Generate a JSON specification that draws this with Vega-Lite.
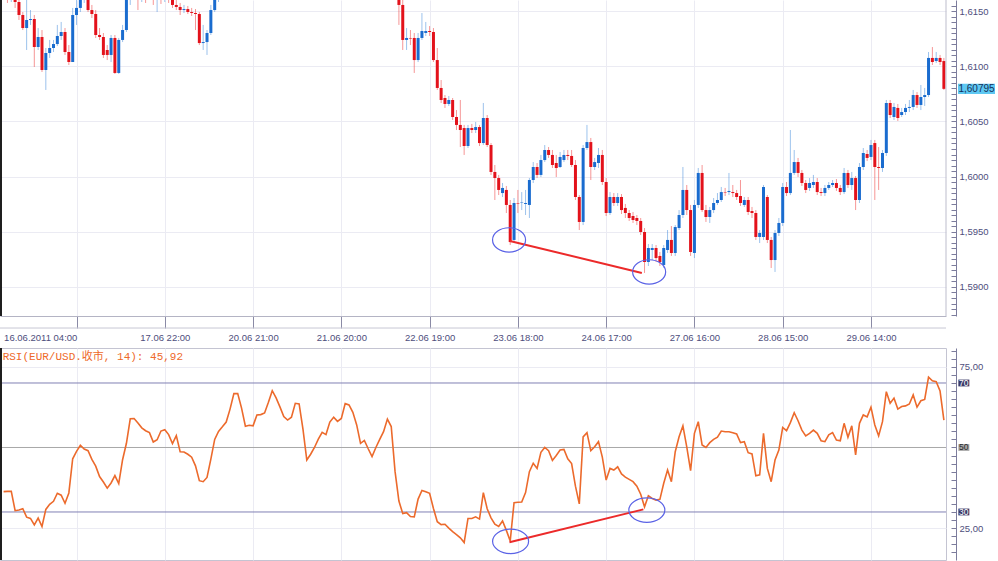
{
"$schema": "https://vega.github.io/schema/vega-lite/v6.json",
"padding": {"left": -1, "top": -1, "right": 0, "bottom": 0},
"background": "#ffffff",
"bounds": "flush",
"spacing": 32,
"config": {"view": {"stroke": null}, "axis": {"labelFont": "Liberation Sans", "labelFontSize": 9.5, "labelColor": "#4e4e7c", "title": null}},
"datasets": {
"bars": [
{"i":0,"o":1.61645,"h":1.61763,"l":1.616,"c":1.61691,"r":36.3},
{"i":1,"o":1.61691,"h":1.61736,"l":1.61573,"c":1.61636,"r":36.4},
{"i":2,"o":1.61636,"h":1.61709,"l":1.61582,"c":1.61672,"r":36.4},
{"i":3,"o":1.61672,"h":1.61709,"l":1.61528,"c":1.61582,"r":30.4},
{"i":4,"o":1.61582,"h":1.61618,"l":1.61419,"c":1.61464,"r":30.6},
{"i":5,"o":1.61464,"h":1.61491,"l":1.61328,"c":1.61346,"r":31.0},
{"i":6,"o":1.61346,"h":1.616,"l":1.61147,"c":1.61419,"r":28.4},
{"i":7,"o":1.61419,"h":1.61509,"l":1.61374,"c":1.61428,"r":28.0},
{"i":8,"o":1.61428,"h":1.61464,"l":1.60993,"c":1.61174,"r":26.0},
{"i":9,"o":1.61174,"h":1.61346,"l":1.61147,"c":1.61265,"r":28.1},
{"i":10,"o":1.61265,"h":1.61328,"l":1.60948,"c":1.60966,"r":25.5},
{"i":11,"o":1.60966,"h":1.61165,"l":1.60785,"c":1.6112,"r":30.8},
{"i":12,"o":1.6112,"h":1.61238,"l":1.61075,"c":1.61165,"r":32.4},
{"i":13,"o":1.61165,"h":1.61238,"l":1.61129,"c":1.61201,"r":33.3},
{"i":14,"o":1.61201,"h":1.61374,"l":1.61183,"c":1.61274,"r":35.8},
{"i":15,"o":1.61274,"h":1.61401,"l":1.61238,"c":1.6131,"r":35.2},
{"i":16,"o":1.6131,"h":1.61346,"l":1.61102,"c":1.61129,"r":32.7},
{"i":17,"o":1.61129,"h":1.61192,"l":1.61011,"c":1.61038,"r":35.9},
{"i":18,"o":1.61038,"h":1.61528,"l":1.61038,"c":1.61464,"r":46.5},
{"i":19,"o":1.61464,"h":1.616,"l":1.61374,"c":1.61528,"r":48.8},
{"i":20,"o":1.61528,"h":1.61645,"l":1.61491,"c":1.616,"r":50.7},
{"i":21,"o":1.616,"h":1.61672,"l":1.61573,"c":1.61618,"r":49.5},
{"i":22,"o":1.616,"h":1.61645,"l":1.61491,"c":1.61509,"r":49.0},
{"i":23,"o":1.61509,"h":1.61555,"l":1.61437,"c":1.61473,"r":46.3},
{"i":24,"o":1.61473,"h":1.61509,"l":1.61256,"c":1.61283,"r":44.2},
{"i":25,"o":1.61283,"h":1.61346,"l":1.61238,"c":1.61265,"r":41.0},
{"i":26,"o":1.61265,"h":1.61301,"l":1.61075,"c":1.61102,"r":39.3},
{"i":27,"o":1.61147,"h":1.61192,"l":1.61056,"c":1.61102,"r":37.4},
{"i":28,"o":1.61102,"h":1.61283,"l":1.61038,"c":1.61256,"r":39.0},
{"i":29,"o":1.61256,"h":1.61283,"l":1.6093,"c":1.60939,"r":41.3},
{"i":30,"o":1.60939,"h":1.61256,"l":1.6093,"c":1.61238,"r":38.8},
{"i":31,"o":1.61238,"h":1.61374,"l":1.61219,"c":1.61328,"r":46.2},
{"i":32,"o":1.61328,"h":1.61645,"l":1.6131,"c":1.616,"r":51.3},
{"i":33,"o":1.616,"h":1.61736,"l":1.61555,"c":1.61691,"r":58.9},
{"i":34,"o":1.61691,"h":1.61736,"l":1.616,"c":1.61654,"r":59.0},
{"i":35,"o":1.61654,"h":1.61709,"l":1.61509,"c":1.61627,"r":57.6},
{"i":36,"o":1.61627,"h":1.61727,"l":1.61582,"c":1.61672,"r":56.1},
{"i":37,"o":1.61672,"h":1.61736,"l":1.61573,"c":1.61645,"r":55.2},
{"i":38,"o":1.61645,"h":1.61763,"l":1.616,"c":1.61691,"r":54.6},
{"i":39,"o":1.61691,"h":1.61745,"l":1.61555,"c":1.61636,"r":51.7},
{"i":40,"o":1.61636,"h":1.61745,"l":1.61491,"c":1.61682,"r":52.4},
{"i":41,"o":1.61682,"h":1.61727,"l":1.61564,"c":1.61618,"r":55.1},
{"i":42,"o":1.61618,"h":1.61709,"l":1.61582,"c":1.61654,"r":55.5},
{"i":43,"o":1.61654,"h":1.61709,"l":1.61573,"c":1.61609,"r":54.0},
{"i":44,"o":1.616,"h":1.61636,"l":1.61528,"c":1.61555,"r":51.2},
{"i":45,"o":1.61555,"h":1.616,"l":1.61509,"c":1.61537,"r":53.7},
{"i":46,"o":1.61537,"h":1.61573,"l":1.61464,"c":1.61509,"r":48.7},
{"i":47,"o":1.61509,"h":1.61555,"l":1.61482,"c":1.61518,"r":48.6},
{"i":48,"o":1.61518,"h":1.61546,"l":1.61473,"c":1.61491,"r":47.9},
{"i":49,"o":1.61491,"h":1.61528,"l":1.61455,"c":1.61482,"r":47.0},
{"i":50,"o":1.61482,"h":1.61518,"l":1.61328,"c":1.61473,"r":44.3},
{"i":51,"o":1.61473,"h":1.61491,"l":1.61192,"c":1.6121,"r":39.7},
{"i":52,"o":1.6121,"h":1.61374,"l":1.61147,"c":1.61219,"r":39.4},
{"i":53,"o":1.61219,"h":1.61328,"l":1.61102,"c":1.61301,"r":40.7},
{"i":54,"o":1.61301,"h":1.61555,"l":1.61283,"c":1.61509,"r":46.4},
{"i":55,"o":1.61509,"h":1.61645,"l":1.61491,"c":1.616,"r":52.5},
{"i":56,"o":1.616,"h":1.61736,"l":1.61582,"c":1.61691,"r":55.0},
{"i":57,"o":1.61691,"h":1.61872,"l":1.61645,"c":1.61827,"r":56.4},
{"i":58,"o":1.61827,"h":1.62008,"l":1.61781,"c":1.61962,"r":57.9},
{"i":59,"o":1.61962,"h":1.62162,"l":1.61917,"c":1.62098,"r":61.9},
{"i":60,"o":1.62098,"h":1.62162,"l":1.62008,"c":1.62053,"r":66.7},
{"i":61,"o":1.62053,"h":1.62098,"l":1.6189,"c":1.61944,"r":66.7},
{"i":62,"o":1.61944,"h":1.62035,"l":1.61872,"c":1.61981,"r":62.2},
{"i":63,"o":1.61981,"h":1.62017,"l":1.61854,"c":1.61917,"r":56.6},
{"i":64,"o":1.61917,"h":1.61962,"l":1.61781,"c":1.61872,"r":56.9},
{"i":65,"o":1.61872,"h":1.62008,"l":1.61827,"c":1.61962,"r":56.7},
{"i":66,"o":1.61962,"h":1.62098,"l":1.61926,"c":1.62053,"r":60.1},
{"i":67,"o":1.62053,"h":1.62107,"l":1.61962,"c":1.62008,"r":60.2},
{"i":68,"o":1.62008,"h":1.62189,"l":1.61981,"c":1.62144,"r":60.7},
{"i":69,"o":1.62144,"h":1.62307,"l":1.62107,"c":1.62252,"r":64.0},
{"i":70,"o":1.62252,"h":1.62289,"l":1.62125,"c":1.62162,"r":67.6},
{"i":71,"o":1.62162,"h":1.62198,"l":1.62053,"c":1.62098,"r":65.4},
{"i":72,"o":1.62098,"h":1.62144,"l":1.62008,"c":1.62053,"r":62.6},
{"i":73,"o":1.62053,"h":1.6218,"l":1.62017,"c":1.62125,"r":59.6},
{"i":74,"o":1.62125,"h":1.62144,"l":1.61962,"c":1.62008,"r":58.5},
{"i":75,"o":1.62008,"h":1.62071,"l":1.61944,"c":1.62035,"r":59.4},
{"i":76,"o":1.62035,"h":1.62125,"l":1.61999,"c":1.62071,"r":63.7},
{"i":77,"o":1.62071,"h":1.62107,"l":1.61962,"c":1.62008,"r":63.5},
{"i":78,"o":1.62008,"h":1.62035,"l":1.61872,"c":1.61917,"r":55.7},
{"i":79,"o":1.61917,"h":1.61962,"l":1.61799,"c":1.61854,"r":46.1},
{"i":80,"o":1.61854,"h":1.61926,"l":1.61817,"c":1.61872,"r":47.9},
{"i":81,"o":1.61872,"h":1.61944,"l":1.61836,"c":1.61908,"r":50.0},
{"i":82,"o":1.61908,"h":1.61981,"l":1.61872,"c":1.61944,"r":52.6},
{"i":83,"o":1.61944,"h":1.62017,"l":1.61908,"c":1.61981,"r":54.7},
{"i":84,"o":1.61981,"h":1.62017,"l":1.61926,"c":1.61962,"r":54.0},
{"i":85,"o":1.61962,"h":1.62053,"l":1.61926,"c":1.62017,"r":57.9},
{"i":86,"o":1.62017,"h":1.62098,"l":1.61981,"c":1.62053,"r":59.4},
{"i":87,"o":1.62053,"h":1.62089,"l":1.61999,"c":1.62035,"r":58.1},
{"i":88,"o":1.62035,"h":1.62098,"l":1.61999,"c":1.62053,"r":59.0},
{"i":89,"o":1.62053,"h":1.62162,"l":1.62017,"c":1.62125,"r":63.6},
{"i":90,"o":1.62125,"h":1.6218,"l":1.62071,"c":1.62116,"r":63.2},
{"i":91,"o":1.62116,"h":1.62144,"l":1.62053,"c":1.62089,"r":60.9},
{"i":92,"o":1.62089,"h":1.62125,"l":1.61999,"c":1.62035,"r":57.0},
{"i":93,"o":1.62035,"h":1.62053,"l":1.61926,"c":1.61962,"r":51.3},
{"i":94,"o":1.61962,"h":1.62017,"l":1.61926,"c":1.61981,"r":52.2},
{"i":95,"o":1.61981,"h":1.62008,"l":1.61908,"c":1.61944,"r":49.6},
{"i":96,"o":1.61944,"h":1.61962,"l":1.61872,"c":1.61908,"r":47.2},
{"i":97,"o":1.61908,"h":1.61981,"l":1.61872,"c":1.61944,"r":50.0},
{"i":98,"o":1.61944,"h":1.62017,"l":1.61908,"c":1.61981,"r":52.5},
{"i":99,"o":1.61981,"h":1.62053,"l":1.61944,"c":1.62017,"r":54.9},
{"i":100,"o":1.62017,"h":1.62107,"l":1.61981,"c":1.62071,"r":58.8},
{"i":101,"o":1.62071,"h":1.62107,"l":1.61999,"c":1.62035,"r":56.5},
{"i":102,"o":1.62035,"h":1.62053,"l":1.61736,"c":1.61781,"r":42.5},
{"i":103,"o":1.61781,"h":1.61827,"l":1.61374,"c":1.61555,"r":33.4},
{"i":104,"o":1.61555,"h":1.616,"l":1.61147,"c":1.61238,"r":29.5},
{"i":105,"o":1.61238,"h":1.61346,"l":1.61147,"c":1.61256,"r":29.8},
{"i":106,"o":1.61256,"h":1.61328,"l":1.61192,"c":1.61251,"r":28.6},
{"i":107,"o":1.61256,"h":1.61301,"l":1.60939,"c":1.61056,"r":28.5},
{"i":108,"o":1.61056,"h":1.61301,"l":1.61038,"c":1.61256,"r":34.0},
{"i":109,"o":1.61256,"h":1.61482,"l":1.61238,"c":1.61319,"r":36.7},
{"i":110,"o":1.61301,"h":1.61401,"l":1.61274,"c":1.61319,"r":36.3},
{"i":111,"o":1.61319,"h":1.61364,"l":1.61274,"c":1.6131,"r":35.8},
{"i":112,"o":1.6131,"h":1.61346,"l":1.61038,"c":1.61056,"r":31.1},
{"i":113,"o":1.61056,"h":1.61165,"l":1.60785,"c":1.60803,"r":27.0},
{"i":114,"o":1.60803,"h":1.60875,"l":1.60667,"c":1.60694,"r":26.1},
{"i":115,"o":1.60712,"h":1.60739,"l":1.60622,"c":1.60658,"r":26.2},
{"i":116,"o":1.60658,"h":1.6073,"l":1.6064,"c":1.60694,"r":25.0},
{"i":117,"o":1.60694,"h":1.60712,"l":1.60513,"c":1.6054,"r":23.9},
{"i":118,"o":1.6054,"h":1.60603,"l":1.60422,"c":1.60468,"r":23.0},
{"i":119,"o":1.60468,"h":1.60694,"l":1.60268,"c":1.60422,"r":22.0},
{"i":120,"o":1.6044,"h":1.60468,"l":1.60196,"c":1.60277,"r":20.5},
{"i":121,"o":1.60277,"h":1.60468,"l":1.60259,"c":1.6044,"r":28.0},
{"i":122,"o":1.6044,"h":1.60477,"l":1.60395,"c":1.60422,"r":28.0},
{"i":123,"o":1.60422,"h":1.60495,"l":1.60395,"c":1.60449,"r":28.5},
{"i":124,"o":1.60449,"h":1.60468,"l":1.60277,"c":1.60304,"r":27.8},
{"i":125,"o":1.60304,"h":1.60667,"l":1.60286,"c":1.60531,"r":36.0},
{"i":126,"o":1.60531,"h":1.60558,"l":1.60268,"c":1.60286,"r":31.0},
{"i":127,"o":1.60286,"h":1.60304,"l":1.60015,"c":1.60042,"r":28.2},
{"i":128,"o":1.60042,"h":1.60105,"l":1.59788,"c":1.59987,"r":26.2},
{"i":129,"o":1.59987,"h":1.60015,"l":1.59833,"c":1.59879,"r":25.5},
{"i":130,"o":1.59851,"h":1.59942,"l":1.59815,"c":1.59897,"r":27.2},
{"i":131,"o":1.59879,"h":1.59915,"l":1.5967,"c":1.59743,"r":24.3},
{"i":132,"o":1.59743,"h":1.59788,"l":1.5938,"c":1.59407,"r":21.0},
{"i":133,"o":1.59426,"h":1.59806,"l":1.59407,"c":1.59761,"r":32.9},
{"i":134,"o":1.59761,"h":1.59879,"l":1.5967,"c":1.59756,"r":33.0},
{"i":135,"o":1.59761,"h":1.5986,"l":1.59697,"c":1.59765,"r":33.1},
{"i":136,"o":1.59752,"h":1.59879,"l":1.59652,"c":1.59761,"r":36.0},
{"i":137,"o":1.59743,"h":1.59987,"l":1.59625,"c":1.59969,"r":42.5},
{"i":138,"o":1.59969,"h":1.60132,"l":1.59942,"c":1.60087,"r":45.1},
{"i":139,"o":1.60087,"h":1.60123,"l":1.59987,"c":1.60015,"r":43.5},
{"i":140,"o":1.60015,"h":1.60196,"l":1.59996,"c":1.6015,"r":48.5},
{"i":141,"o":1.6015,"h":1.60286,"l":1.60132,"c":1.60241,"r":50.0},
{"i":142,"o":1.60241,"h":1.60268,"l":1.60169,"c":1.60196,"r":49.0},
{"i":143,"o":1.60196,"h":1.60241,"l":1.60078,"c":1.60105,"r":46.0},
{"i":144,"o":1.60123,"h":1.60196,"l":1.59996,"c":1.60078,"r":47.5},
{"i":145,"o":1.60087,"h":1.60223,"l":1.60078,"c":1.60178,"r":49.2},
{"i":146,"o":1.6015,"h":1.60241,"l":1.60132,"c":1.60196,"r":49.4},
{"i":147,"o":1.60196,"h":1.60241,"l":1.6015,"c":1.60187,"r":46.5},
{"i":148,"o":1.60187,"h":1.60241,"l":1.60087,"c":1.60105,"r":45.0},
{"i":149,"o":1.60105,"h":1.6015,"l":1.59788,"c":1.59815,"r":38.0},
{"i":150,"o":1.59815,"h":1.59833,"l":1.59516,"c":1.59589,"r":32.5},
{"i":151,"o":1.59589,"h":1.60286,"l":1.59561,"c":1.60259,"r":53.3},
{"i":152,"o":1.60259,"h":1.60468,"l":1.60241,"c":1.60313,"r":54.6},
{"i":153,"o":1.60313,"h":1.6035,"l":1.59969,"c":1.60087,"r":49.0},
{"i":154,"o":1.60087,"h":1.60169,"l":1.6006,"c":1.60132,"r":50.2},
{"i":155,"o":1.60123,"h":1.60259,"l":1.60078,"c":1.60196,"r":51.8},
{"i":156,"o":1.60196,"h":1.60241,"l":1.59924,"c":1.59951,"r":47.0},
{"i":157,"o":1.59951,"h":1.59987,"l":1.59643,"c":1.5967,"r":39.9},
{"i":158,"o":1.5967,"h":1.5986,"l":1.59652,"c":1.59815,"r":43.5},
{"i":159,"o":1.59815,"h":1.59851,"l":1.59734,"c":1.59761,"r":43.0},
{"i":160,"o":1.59761,"h":1.59851,"l":1.59734,"c":1.59815,"r":44.0},
{"i":161,"o":1.59815,"h":1.59842,"l":1.59661,"c":1.59697,"r":41.8},
{"i":162,"o":1.59716,"h":1.59752,"l":1.59625,"c":1.5967,"r":40.8},
{"i":163,"o":1.5967,"h":1.59697,"l":1.59598,"c":1.59625,"r":40.1},
{"i":164,"o":1.59643,"h":1.59679,"l":1.5958,"c":1.59607,"r":39.4},
{"i":165,"o":1.59625,"h":1.59652,"l":1.59561,"c":1.59598,"r":38.0},
{"i":166,"o":1.59598,"h":1.59625,"l":1.59471,"c":1.59498,"r":35.5},
{"i":167,"o":1.59498,"h":1.59534,"l":1.59127,"c":1.59226,"r":31.6},
{"i":168,"o":1.59226,"h":1.59389,"l":1.5919,"c":1.59353,"r":35.0},
{"i":169,"o":1.59335,"h":1.59389,"l":1.59244,"c":1.59353,"r":34.2},
{"i":170,"o":1.59353,"h":1.5938,"l":1.59226,"c":1.59262,"r":33.7},
{"i":171,"o":1.59281,"h":1.59317,"l":1.5919,"c":1.59226,"r":33.9},
{"i":172,"o":1.59199,"h":1.5938,"l":1.59172,"c":1.59353,"r":38.9},
{"i":173,"o":1.59335,"h":1.59516,"l":1.59308,"c":1.59426,"r":43.0},
{"i":174,"o":1.59426,"h":1.59552,"l":1.59281,"c":1.59308,"r":39.4},
{"i":175,"o":1.59308,"h":1.59561,"l":1.59281,"c":1.59543,"r":48.7},
{"i":176,"o":1.59534,"h":1.59697,"l":1.59516,"c":1.59652,"r":53.3},
{"i":177,"o":1.59652,"h":1.60087,"l":1.59625,"c":1.59879,"r":56.7},
{"i":178,"o":1.59879,"h":1.59924,"l":1.59652,"c":1.59697,"r":50.2},
{"i":179,"o":1.59697,"h":1.59743,"l":1.59281,"c":1.59317,"r":42.8},
{"i":180,"o":1.59308,"h":1.59788,"l":1.59262,"c":1.59743,"r":54.4},
{"i":181,"o":1.59743,"h":1.60078,"l":1.59716,"c":1.60033,"r":58.0},
{"i":182,"o":1.60033,"h":1.60105,"l":1.59679,"c":1.59697,"r":50.8},
{"i":183,"o":1.59697,"h":1.59743,"l":1.59589,"c":1.59634,"r":50.0},
{"i":184,"o":1.59634,"h":1.59725,"l":1.5958,"c":1.59697,"r":51.5},
{"i":185,"o":1.59697,"h":1.59806,"l":1.5967,"c":1.59761,"r":52.5},
{"i":186,"o":1.59761,"h":1.59851,"l":1.59743,"c":1.59788,"r":53.2},
{"i":187,"o":1.59788,"h":1.59906,"l":1.5977,"c":1.5986,"r":55.1},
{"i":188,"o":1.5986,"h":1.59897,"l":1.59824,"c":1.59856,"r":54.9},
{"i":189,"o":1.5986,"h":1.60033,"l":1.59833,"c":1.5987,"r":54.9},
{"i":190,"o":1.5986,"h":1.59924,"l":1.59815,"c":1.59851,"r":54.6},
{"i":191,"o":1.59851,"h":1.59879,"l":1.59788,"c":1.59815,"r":54.2},
{"i":192,"o":1.59824,"h":1.59969,"l":1.59734,"c":1.59761,"r":51.5},
{"i":193,"o":1.59743,"h":1.59815,"l":1.59725,"c":1.59788,"r":51.8},
{"i":194,"o":1.59788,"h":1.59815,"l":1.59652,"c":1.59679,"r":48.4},
{"i":195,"o":1.59688,"h":1.59725,"l":1.59625,"c":1.5967,"r":48.0},
{"i":196,"o":1.5967,"h":1.59697,"l":1.59426,"c":1.59453,"r":41.2},
{"i":197,"o":1.59453,"h":1.59516,"l":1.59398,"c":1.59489,"r":41.5},
{"i":198,"o":1.59453,"h":1.59924,"l":1.59426,"c":1.59906,"r":54.4},
{"i":199,"o":1.59815,"h":1.59833,"l":1.59398,"c":1.59426,"r":43.5},
{"i":200,"o":1.59426,"h":1.59453,"l":1.59172,"c":1.59244,"r":39.4},
{"i":201,"o":1.59244,"h":1.59516,"l":1.59136,"c":1.59489,"r":46.1},
{"i":202,"o":1.59489,"h":1.59625,"l":1.59462,"c":1.5958,"r":49.2},
{"i":203,"o":1.5958,"h":1.59942,"l":1.59552,"c":1.59906,"r":56.2},
{"i":204,"o":1.59906,"h":1.59951,"l":1.59824,"c":1.59851,"r":55.2},
{"i":205,"o":1.59851,"h":1.60422,"l":1.59833,"c":1.60033,"r":57.7},
{"i":206,"o":1.60033,"h":1.60241,"l":1.60015,"c":1.60132,"r":60.8},
{"i":207,"o":1.60132,"h":1.60169,"l":1.59996,"c":1.60033,"r":58.3},
{"i":208,"o":1.60033,"h":1.6006,"l":1.59915,"c":1.59942,"r":55.4},
{"i":209,"o":1.59942,"h":1.59969,"l":1.59851,"c":1.59879,"r":53.6},
{"i":210,"o":1.59897,"h":1.59987,"l":1.5987,"c":1.59942,"r":54.4},
{"i":211,"o":1.59924,"h":1.60015,"l":1.59897,"c":1.59951,"r":55.4},
{"i":212,"o":1.59951,"h":1.59987,"l":1.59833,"c":1.5986,"r":54.4},
{"i":213,"o":1.5986,"h":1.59897,"l":1.59824,"c":1.59851,"r":52.1},
{"i":214,"o":1.59851,"h":1.59924,"l":1.59824,"c":1.59897,"r":51.8},
{"i":215,"o":1.59897,"h":1.59951,"l":1.59879,"c":1.59924,"r":53.9},
{"i":216,"o":1.59924,"h":1.59969,"l":1.59906,"c":1.59942,"r":54.6},
{"i":217,"o":1.59942,"h":1.59978,"l":1.5987,"c":1.59897,"r":52.3},
{"i":218,"o":1.59897,"h":1.59924,"l":1.59833,"c":1.5986,"r":52.1},
{"i":219,"o":1.5986,"h":1.60078,"l":1.59842,"c":1.60033,"r":57.5},
{"i":220,"o":1.60033,"h":1.6006,"l":1.59897,"c":1.59924,"r":53.2},
{"i":221,"o":1.59924,"h":1.60042,"l":1.59879,"c":1.59987,"r":56.7},
{"i":222,"o":1.59987,"h":1.60005,"l":1.59697,"c":1.59788,"r":47.7},
{"i":223,"o":1.59788,"h":1.60123,"l":1.59761,"c":1.60087,"r":57.5},
{"i":224,"o":1.60087,"h":1.60259,"l":1.6006,"c":1.60214,"r":60.1},
{"i":225,"o":1.60205,"h":1.60241,"l":1.60141,"c":1.60169,"r":59.5},
{"i":226,"o":1.60178,"h":1.60332,"l":1.6015,"c":1.60286,"r":62.5},
{"i":227,"o":1.60304,"h":1.60332,"l":1.59788,"c":1.60087,"r":57.0},
{"i":228,"o":1.60087,"h":1.60268,"l":1.59879,"c":1.60078,"r":53.6},
{"i":229,"o":1.60078,"h":1.60241,"l":1.60042,"c":1.60214,"r":58.0},
{"i":230,"o":1.60214,"h":1.60694,"l":1.60187,"c":1.60667,"r":67.3},
{"i":231,"o":1.60667,"h":1.60694,"l":1.60531,"c":1.60558,"r":63.7},
{"i":232,"o":1.6054,"h":1.60667,"l":1.60513,"c":1.60631,"r":65.3},
{"i":233,"o":1.60622,"h":1.60658,"l":1.60504,"c":1.60531,"r":61.9},
{"i":234,"o":1.60558,"h":1.60622,"l":1.6054,"c":1.60585,"r":62.7},
{"i":235,"o":1.60585,"h":1.60658,"l":1.60558,"c":1.60622,"r":62.9},
{"i":236,"o":1.60622,"h":1.60694,"l":1.60585,"c":1.60631,"r":63.5},
{"i":237,"o":1.60631,"h":1.60785,"l":1.60603,"c":1.60739,"r":66.3},
{"i":238,"o":1.60739,"h":1.60766,"l":1.60622,"c":1.60649,"r":62.5},
{"i":239,"o":1.60649,"h":1.6083,"l":1.60603,"c":1.60721,"r":64.5},
{"i":240,"o":1.60721,"h":1.60803,"l":1.6064,"c":1.60739,"r":64.9},
{"i":241,"o":1.60739,"h":1.61129,"l":1.60721,"c":1.61075,"r":71.8},
{"i":242,"o":1.61075,"h":1.61174,"l":1.61011,"c":1.61038,"r":70.7},
{"i":243,"o":1.61047,"h":1.61129,"l":1.61029,"c":1.61075,"r":70.4},
{"i":244,"o":1.61075,"h":1.61102,"l":1.61011,"c":1.61038,"r":67.5},
{"i":245,"o":1.61047,"h":1.61075,"l":1.60785,"c":1.60795,"r":58.5}
],
"notes": [
{"k":"pl","i":131.9,"v":1.59417},{"k":"pl","i":166.3,"v":1.59127},
{"k":"pe","i":131.7,"v":1.59426},{"k":"pe","i":168.2,"v":1.59136},
{"k":"rl","i":131.8,"v":20.6},{"k":"rl","i":166.7,"v":30.8},
{"k":"re","i":132.1,"v":20.9},{"k":"re","i":167.6,"v":30.6}
],
"levels": [{"lv":70},{"lv":50},{"lv":30}]
},
"vconcat": [
{
"width": 946, "height": 316,
"layer": [
{"data": {"name": "bars"},
 "mark": {"type": "rule", "clip": true, "strokeWidth": 1, "opacity": 0.55},
 "encoding": {
  "x": {"field": "i", "type": "quantitative", "scale": {"domain": [-0.94, 245.55], "nice": false, "zero": false, "padding": 0},
        "axis": {"values": [0,19,42,65,88,111,134,157,180,203,226], "tickCount": 500,
                 "labelExpr": "datum.value===0?'16.06.2011 04:00':datum.value===42?'17.06 22:00':datum.value===65?'20.06 21:00':datum.value===88?'21.06 20:00':datum.value===111?'22.06 19:00':datum.value===134?'23.06 18:00':datum.value===157?'24.06 17:00':datum.value===180?'27.06 16:00':datum.value===203?'28.06 15:00':datum.value===226?'29.06 14:00':''",
                 "tickSize": 12, "tickColor": "#8a8aa6",
                 "tickOpacity": {"condition": {"test": "datum.value === 0", "value": 0}, "value": 1},
                 "domainColor": "#b4b4c4", "grid": true, "gridColor": "#ebebf3",
                 "gridOpacity": {"condition": {"test": "datum.value === 0", "value": 0}, "value": 1},
                 "labelPadding": 4, "labelFlush": 6, "labelOverlap": false, "labelBound": false}},
  "y": {"field": "l", "type": "quantitative", "scale": {"domain": [1.58737, 1.616], "nice": false, "zero": false},
        "axis": {"orient": "right", "offset": 10, "tickCount": 500,
                 "values": [1.5875,1.588,1.5885,1.589,1.5895,1.59,1.5905,1.591,1.5915,1.592,1.5925,1.593,1.5935,1.594,1.5945,1.595,1.5955,1.596,1.5965,1.597,1.5975,1.598,1.5985,1.599,1.5995,1.6,1.6005,1.601,1.6015,1.602,1.6025,1.603,1.6035,1.604,1.6045,1.605,1.6055,1.606,1.6065,1.607,1.6075,1.608,1.6085,1.609,1.6095,1.61,1.6105,1.611,1.6115,1.612,1.6125,1.613,1.6135,1.614,1.6145,1.615,1.6155],
                 "tickSize": -5, "tickColor": "#7c7c9c", "domainColor": "#7c7c9c", "labelPadding": 8,
                 "labelExpr": "abs(datum.value*200-round(datum.value*200))<0.01 ? replace(format(datum.value,'.4f'),'.',',') : ''",
                 "grid": true, "gridColor": "#ebebf3",
                 "gridOpacity": {"condition": {"test": "abs(datum.value*200-round(datum.value*200))<0.01", "value": 1}, "value": 0},
                 "labelOverlap": false}},
  "y2": {"field": "h"},
  "color": {"condition": {"test": "datum.c >= datum.o", "value": "#4a8fdc"}, "value": "#ee4040"}
 }},
{"data": {"name": "bars"},
 "mark": {"type": "bar", "clip": true, "size": 3},
 "encoding": {
  "x": {"field": "i", "type": "quantitative"},
  "y": {"field": "o", "type": "quantitative", "axis": {"orient": "right"}},
  "y2": {"field": "c"},
  "color": {"condition": {"test": "datum.c >= datum.o", "value": "#1a6ccf"}, "value": "#e3121b"}
 }},
{"data": {"name": "notes"}, "transform": [{"filter": "datum.k === 'pl'"}],
 "mark": {"type": "line", "clip": true, "color": "#ec2a2a", "strokeWidth": 2},
 "encoding": {"x": {"field": "i", "type": "quantitative"}, "y": {"field": "v", "type": "quantitative", "axis": {"orient": "right"}}}},
{"data": {"name": "notes"}, "transform": [{"filter": "datum.k === 'pe'"}],
 "mark": {"type": "point", "shape": "M-1,0A1,0.74,0,1,1,1,0A1,0.74,0,1,1,-1,0Z", "size": 1089, "filled": false, "stroke": "#5b63e6", "strokeWidth": 1.2, "opacity": 1},
 "encoding": {"x": {"field": "i", "type": "quantitative"}, "y": {"field": "v", "type": "quantitative", "axis": {"orient": "right"}}}},
{"data": {"values": [{"p": 1.60795, "t": "1,60795"}]},
 "mark": {"type": "point", "shape": "M-1,-0.28H1V0.28H-1Z", "size": 1369, "filled": true, "color": "#5ec8f2", "opacity": 1},
 "encoding": {"x": {"datum": 253.5, "type": "quantitative"}, "y": {"field": "p", "type": "quantitative", "axis": {"orient": "right"}}}},
{"data": {"values": [{"p": 1.60795, "t": "1,60795"}]},
 "mark": {"type": "text", "fontSize": 10, "font": "Liberation Sans", "color": "#16305a", "align": "center", "baseline": "middle"},
 "encoding": {"x": {"datum": 253.5, "type": "quantitative"}, "y": {"field": "p", "type": "quantitative", "axis": {"orient": "right"}}, "text": {"field": "t"}}},
{"data": {"values": [{}]}, "mark": {"type": "rule", "color": "#c8c8d4", "strokeWidth": 1},
 "encoding": {"y": {"datum": 1.58628, "type": "quantitative", "axis": {"orient": "right"}}}},
{"data": {"values": [{}]}, "mark": {"type": "rule", "color": "#bdbdcc", "strokeWidth": 1},
 "encoding": {"x": {"datum": 245.55, "type": "quantitative"}}},
{"data": {"values": [{}]}, "mark": {"type": "rect", "color": "#1e1e1e", "strokeWidth": 0},
 "encoding": {"x": {"datum": -0.94, "type": "quantitative"}, "x2": {"datum": -0.42}}}
]
},
{
"width": 946, "height": 212,
"view": {"stroke": "#c4c4d2"},
"layer": [
{"data": {"name": "levels"}, "mark": {"type": "rule", "strokeWidth": 1},
 "encoding": {"y": {"field": "lv", "type": "quantitative", "scale": {"domain": [15.11, 80.85], "nice": false, "zero": false}, "axis": {"orient": "right"}},
  "color": {"condition": {"test": "datum.lv === 50", "value": "#a8a8a8"}, "value": "#8080b4"}}},
{"data": {"name": "bars"},
 "mark": {"type": "line", "color": "#ec6a2c", "strokeWidth": 1.6},
 "encoding": {
  "x": {"field": "i", "type": "quantitative", "scale": {"domain": [-0.94, 245.55], "nice": false, "zero": false, "padding": 0},
        "axis": {"values": [19,42,65,88,111,134,157,180,203,226], "tickCount": 500, "ticks": false, "labels": false, "domain": false, "grid": true, "gridColor": "#ebebf3"}},
  "y": {"field": "r", "type": "quantitative",
        "axis": {"orient": "right", "offset": 10, "tickCount": 500,
                 "values": [17.5,20,22.5,25,27.5,30,32.5,35,37.5,40,42.5,45,47.5,50,52.5,55,57.5,60,62.5,65,67.5,70,72.5,75,77.5,80],
                 "tickSize": -5, "tickColor": "#7c7c9c", "domainColor": "#7c7c9c", "labelPadding": 8,
                 "labelExpr": "datum.value === 75 || datum.value === 25 ? replace(format(datum.value,'.2f'),'.',',') : ''",
                 "grid": true, "gridColor": "#ebebf3",
                 "gridOpacity": {"condition": {"test": "datum.value === 75 || datum.value === 25", "value": 1}, "value": 0},
                 "labelOverlap": false}}
 }},
{"data": {"name": "notes"}, "transform": [{"filter": "datum.k === 'rl'"}],
 "mark": {"type": "line", "color": "#ec2a2a", "strokeWidth": 2},
 "encoding": {"x": {"field": "i", "type": "quantitative"}, "y": {"field": "v", "type": "quantitative", "axis": {"orient": "right"}}}},
{"data": {"name": "notes"}, "transform": [{"filter": "datum.k === 're'"}],
 "mark": {"type": "point", "shape": "M-1,0A1,0.68,0,1,1,1,0A1,0.68,0,1,1,-1,0Z", "size": 1296, "filled": false, "stroke": "#5b63e6", "strokeWidth": 1.2, "opacity": 1},
 "encoding": {"x": {"field": "i", "type": "quantitative"}, "y": {"field": "v", "type": "quantitative", "axis": {"orient": "right"}}}},
{"data": {"name": "levels"},
 "mark": {"type": "point", "shape": "M-1,-0.62H1V0.62H-1Z", "size": 121, "filled": true, "opacity": 1},
 "encoding": {"x": {"datum": 250.2, "type": "quantitative"}, "y": {"field": "lv", "type": "quantitative", "axis": {"orient": "right"}},
  "color": {"condition": {"test": "datum.lv === 50", "value": "#a6a6a6"}, "value": "#3a3a68"}}},
{"data": {"name": "levels"},
 "mark": {"type": "text", "fontSize": 8.5, "font": "Liberation Sans", "align": "center", "baseline": "middle"},
 "encoding": {"x": {"datum": 250.2, "type": "quantitative"}, "y": {"field": "lv", "type": "quantitative", "axis": {"orient": "right"}},
  "text": {"field": "lv"},
  "color": {"condition": {"test": "datum.lv === 50", "value": "#2a2a2a"}, "value": "#ffffff"}}},
{"data": {"values": [{"t": "RSI(EUR/USD.收市, 14): 45,92"}]},
 "mark": {"type": "text", "fontSize": 11, "font": "Liberation Mono, Noto Sans CJK SC", "color": "#ee6a2a", "align": "left", "baseline": "middle"},
 "encoding": {"x": {"datum": -0.25, "type": "quantitative"}, "y": {"datum": 78.1, "type": "quantitative", "axis": {"orient": "right"}}, "text": {"field": "t"}}},
{"data": {"values": [{}]}, "mark": {"type": "rect", "color": "#1e1e1e", "strokeWidth": 0},
 "encoding": {"x": {"datum": -0.94, "type": "quantitative"}, "x2": {"datum": -0.42}}}
]
}
]
}
